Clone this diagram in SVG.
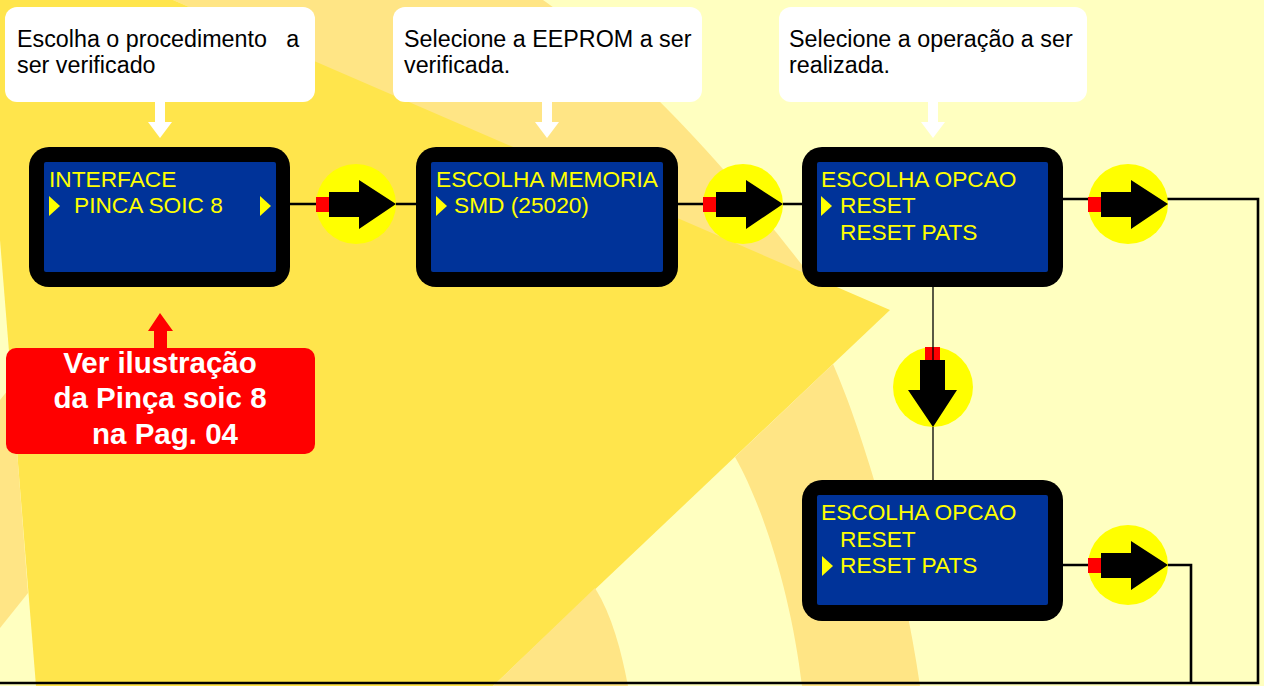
<svg xmlns="http://www.w3.org/2000/svg" xmlns:xlink="http://www.w3.org/1999/xlink" width="1264" height="686" viewBox="0 0 1264 686">
<style>
.callout{fill:#FFFFFF}
.ctext{font-family:"Liberation Sans",Arial,sans-serif;font-size:23.3px;fill:#000000}
.frame{fill:#000000}
.lcd{fill:#003399}
.stext{font-family:"Liberation Sans",Arial,sans-serif;font-size:22.7px;fill:#FFFF00}
.tri{fill:#FFFF00}
.conn{fill:none;stroke:#000000;stroke-width:2.6}
.thin{fill:none;stroke:#000000;stroke-width:1.3}
.rtext{font-family:"Liberation Sans",Arial,sans-serif;font-size:29.5px;font-weight:bold;fill:#FFFFFF;text-anchor:middle}
</style>
<defs>
<g id="rarrow">
<circle cx="0" cy="0" r="40" fill="#FFFF00"/>
<rect x="-40" y="-7" width="13" height="15" fill="#FF0000"/>
<polygon points="-27,-12 3,-12 3,-24 40,0 3,25 3,13 -27,13" fill="#000000"/>
</g>
</defs>

<g id="background">
<rect x="0" y="0" width="1264" height="686" fill="#FFFFC0"/>
<path d="M173,0 L543,0 C600,40 700,130 815,282 Z" fill="#FFE585"/>
<path d="M0,0 L173,0 L890,310 L493,686 L36,686 L0,240 Z" fill="#FFE54C"/>
<path d="M0,400 L12,385 L28,593 L0,628 Z" fill="#FFE585"/>
<path d="M595,588 L493,686 L628,686 C621,650 612,615 595,588 Z" fill="#FFE585"/>
<path d="M833,364 C862,430 902,560 920,686 L802,686 C792,600 765,510 735,457 Z" fill="#FFE585"/>
</g>

<g id="connectors">
<path class="conn" d="M290,204 H416"/>
<path class="conn" d="M678,204 H803"/>
<path class="conn" d="M1063,199 H1258 V683 H0"/>
<path class="thin" d="M933,287 V480"/>
<path class="conn" d="M1063,565 H1191 V683"/>
</g>

<g id="callout1">
<rect class="callout" x="5" y="7" width="310" height="95" rx="12"/>
<polygon class="callout" points="155,101 165,101 165,122 172,122 160,138 148,122 155,122"/>
<text class="ctext" x="17" y="47" xml:space="preserve">Escolha o procedimento   a</text>
<text class="ctext" x="17" y="73">ser verificado</text>
</g>

<g id="callout2">
<rect class="callout" x="393" y="7" width="309" height="95" rx="12"/>
<polygon class="callout" points="542,101 552,101 552,122 559,122 547,138 535,122 542,122"/>
<text class="ctext" x="404" y="47">Selecione a EEPROM a ser</text>
<text class="ctext" x="404" y="73">verificada.</text>
</g>

<g id="callout3">
<rect class="callout" x="779" y="7" width="308" height="95" rx="12"/>
<polygon class="callout" points="928,101 938,101 938,122 945,122 933,138 921,122 928,122"/>
<text class="ctext" x="789" y="47">Selecione a operação a ser</text>
<text class="ctext" x="789" y="73">realizada.</text>
</g>

<g id="screen1">
<rect class="frame" x="29" y="147" width="261" height="140" rx="20"/>
<rect class="lcd" x="44" y="162" width="232" height="110" rx="2"/>
<text class="stext" x="49" y="187">INTERFACE</text>
<polygon class="tri" points="49,196 60,206 49,216"/>
<text class="stext" x="74" y="213">PINCA SOIC 8</text>
<polygon class="tri" points="260,196 271,206 260,216"/>
</g>

<g id="screen2">
<rect class="frame" x="416" y="147" width="262" height="140" rx="20"/>
<rect class="lcd" x="431" y="162" width="232" height="110" rx="2"/>
<text class="stext" x="436" y="187">ESCOLHA MEMORIA</text>
<polygon class="tri" points="436,196 447,206 436,216"/>
<text class="stext" x="454" y="213">SMD (25020)</text>
</g>

<g id="screen3">
<rect class="frame" x="802" y="147" width="261" height="140" rx="20"/>
<rect class="lcd" x="817" y="162" width="231" height="110" rx="2"/>
<text class="stext" x="821" y="187">ESCOLHA OPCAO</text>
<polygon class="tri" points="821,196 832,206 821,216"/>
<text class="stext" x="840" y="213">RESET</text>
<text class="stext" x="840" y="240">RESET PATS</text>
</g>

<g id="screen4">
<rect class="frame" x="802" y="480" width="261" height="141" rx="20"/>
<rect class="lcd" x="817" y="495" width="231" height="110" rx="2"/>
<text class="stext" x="821" y="520">ESCOLHA OPCAO</text>
<text class="stext" x="840" y="547">RESET</text>
<polygon class="tri" points="822,556 833,566 822,576"/>
<text class="stext" x="840" y="573">RESET PATS</text>
</g>

<g id="step1"><use xlink:href="#rarrow" transform="translate(356,204)"/></g>
<g id="step2"><use xlink:href="#rarrow" transform="translate(743,204)"/></g>
<g id="step3"><use xlink:href="#rarrow" transform="translate(1128,204)"/></g>
<g id="step4"><use xlink:href="#rarrow" transform="translate(1128,565)"/></g>
<g id="stepdown">
<use xlink:href="#rarrow" transform="translate(933,387) rotate(90)"/>
<line x1="933" y1="347" x2="933" y2="362" stroke="#000000" stroke-width="1.3"/>
</g>

<g id="note">
<polygon fill="#FF0000" points="154,349 154,331 148,331 160,313 173,331 167,331 167,349"/>
<rect x="6" y="348" width="309" height="106" rx="10" fill="#FF0000"/>
<text class="rtext" x="160" y="373">Ver ilustração</text>
<text class="rtext" x="160" y="408">da Pinça soic 8</text>
<text class="rtext" x="165" y="444">na Pag. 04</text>
</g>
</svg>
